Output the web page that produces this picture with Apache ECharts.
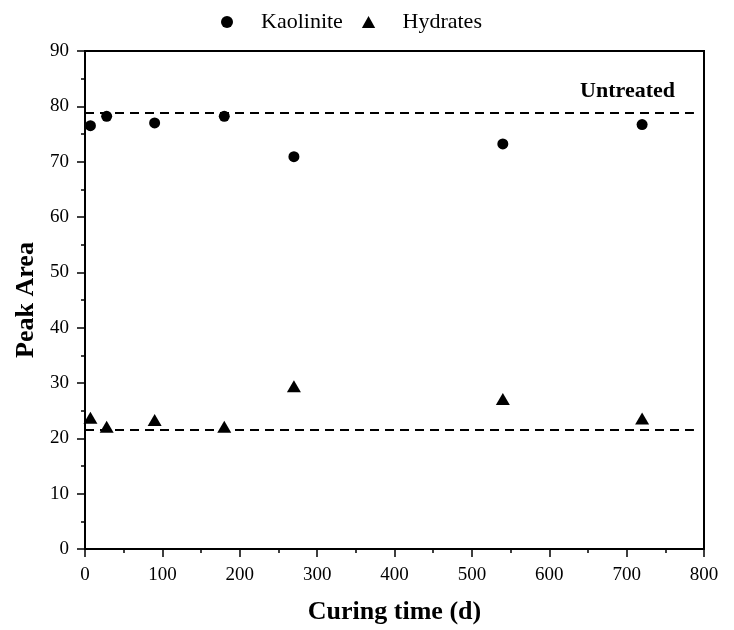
<!DOCTYPE html>
<html>
<head>
<meta charset="utf-8">
<script src="https://cdn.jsdelivr.net/npm/echarts@6/dist/echarts.min.js"></script>
<style>
  html, body { margin: 0; padding: 0; background: #fff; }
  #chart { width: 734px; height: 630px; }
</style>
</head>
<body>
<div id="chart"></div>
<script>
// curing time (d)
var days = [7, 28, 90, 180, 270, 540, 720];
// peak area
var kaolinite = [76.5, 78.2, 77.0, 78.2, 70.9, 73.2, 76.7];
var hydrates = [23.7, 22.1, 23.3, 22.1, 29.4, 27.1, 23.6];
// untreated reference levels
var untreatedKaolinite = 78.8;
var untreatedHydrates = 21.5;
var refSpan = [0, 787];

(function () {
  var chartDom = document.getElementById('chart');
  var myChart = echarts.init(chartDom);
  var font = '"Liberation Serif", "Times New Roman", serif';

  function pairs(xs, ys) {
    return xs.map(function (x, i) { return [x, ys[i]]; });
  }
  function flat(v) {
    return refSpan.map(function (x) { return [x, v]; });
  }

  var triPath = 'path://M5,0 L10,9 L0,9 Z';

  var option = {
    animation: false,
    backgroundColor: '#fff',
    textStyle: { fontFamily: font, color: '#000' },
    legend: {
      left: 216,
      top: 6,
      itemWidth: 14,
      itemHeight: 12,
      itemGap: 19,
      itemStyle: { opacity: 1 },
      textStyle: { fontFamily: font, fontSize: 22, color: '#000', padding: [0, 0, 0, 22] },
      data: [
        { name: 'Kaolinite', icon: 'circle' },
        { name: 'Hydrates', icon: triPath }
      ]
    },
    grid: {
      left: 85,
      right: 30,
      top: 51,
      bottom: 81,
      show: true,
      borderColor: '#000',
      borderWidth: 2
    },
    xAxis: {
      type: 'value',
      min: 0,
      max: 800,
      interval: 100,
      name: 'Curing time (d)',
      nameLocation: 'middle',
      nameGap: 50,
      nameTextStyle: { fontFamily: font, fontSize: 26, fontWeight: 'bold', color: '#000' },
      axisLine: { show: true, onZero: false, lineStyle: { color: '#000', width: 2 } },
      axisTick: { show: true, inside: false, length: 8, lineStyle: { color: '#000', width: 1.5 } },
      minorTick: { show: true, splitNumber: 2, length: 4, lineStyle: { color: '#000', width: 1.5 } },
      axisLabel: { fontFamily: font, fontSize: 19, color: '#000', margin: 17 },
      splitLine: { show: false }
    },
    yAxis: {
      type: 'value',
      min: 0,
      max: 90,
      interval: 10,
      name: 'Peak Area',
      nameLocation: 'middle',
      nameGap: 40,
      nameTextStyle: { fontFamily: font, fontSize: 26, fontWeight: 'bold', color: '#000' },
      axisLine: { show: true, onZero: false, lineStyle: { color: '#000', width: 2 } },
      axisTick: { show: true, inside: false, length: 8, lineStyle: { color: '#000', width: 1.5 } },
      minorTick: { show: true, splitNumber: 2, length: 4, lineStyle: { color: '#000', width: 1.5 } },
      axisLabel: { fontFamily: font, fontSize: 19, color: '#000', margin: 16 },
      splitLine: { show: false }
    },
    graphic: [
      {
        type: 'text',
        right: 59,
        top: 80,
        style: {
          text: 'Untreated',
          font: 'bold 22px ' + font,
          fill: '#000'
        }
      }
    ],
    series: [
      {
        name: 'Kaolinite',
        type: 'scatter',
        symbol: 'circle',
        symbolSize: 11,
        itemStyle: { color: '#000', opacity: 1 },
        data: pairs(days, kaolinite),
        z: 5
      },
      {
        name: 'Hydrates',
        type: 'scatter',
        symbol: 'triangle',
        symbolSize: [14, 12],
        itemStyle: { color: '#000', opacity: 1 },
        data: pairs(days, hydrates),
        z: 5
      },
      {
        name: 'untreated-k',
        type: 'line',
        symbol: 'none',
        lineStyle: { color: '#000', width: 2, type: [9, 6] },
        data: flat(untreatedKaolinite),
        silent: true
      },
      {
        name: 'untreated-h',
        type: 'line',
        symbol: 'none',
        lineStyle: { color: '#000', width: 2, type: [9, 6] },
        data: flat(untreatedHydrates),
        silent: true
      }
    ]
  };

  option && myChart.setOption(option);

  window.addEventListener('resize', function () {
    myChart.resize();
  });
})();
</script>
</body>
</html>
